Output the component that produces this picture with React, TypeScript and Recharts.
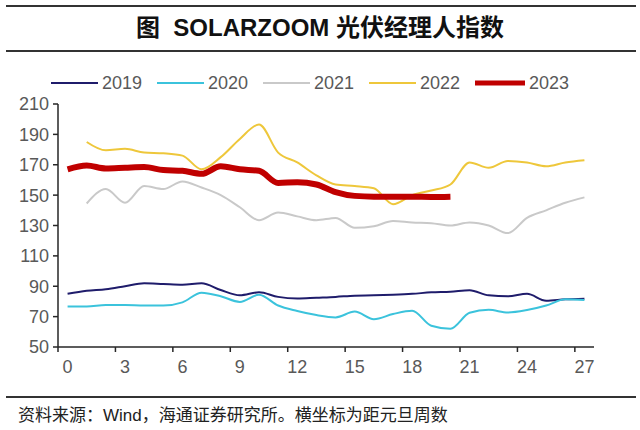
import React from 'react';
import { LineChart, Line, XAxis, YAxis, Legend } from 'recharts';

// weeks since New Year (x axis)
const weeks = [0, 1, 2, 3, 4, 5, 6, 7, 8, 9, 10, 11, 12, 13, 14, 15, 16, 17, 18, 19, 20, 21, 22, 23, 24, 25, 26, 27];

const y2019 = [85, 87, 88, 90, 92, 91.5, 91, 92, 87.5, 84, 86, 83, 82, 82.5, 83, 83.8, 84, 84.4, 85, 86, 86.4, 87.4, 84, 83.4, 85, 80.5, 81.4, 81.8];
const y2020 = [76.7, 76.7, 77.7, 77.7, 77.3, 77.3, 79.4, 85.8, 83.4, 79.7, 84.4, 77.3, 73.7, 71, 69.5, 73.3, 68.3, 71.7, 73.9, 64, 62, 72.5, 74.5, 72.7, 74.3, 77.3, 81.4, 81];
const y2021 = [null, 144.5, 154, 145, 156, 154, 159, 155, 150, 142, 133.5, 138.5, 136, 133.5, 135, 128.5, 129.5, 133, 132, 131.5, 130, 132, 130, 125, 135, 140, 145, 148.5];
const y2022 = [null, 185, 179.5, 180.5, 178, 177.5, 176, 167, 175, 187, 196.5, 178, 171.5, 163, 157, 156, 154.5, 144, 150, 153, 157, 171.5, 168, 172.5, 171.5, 169, 171.5, 173];
const y2023 = [167, 169.5, 167.5, 168, 168.5, 166.5, 166, 164, 169, 167, 166, 158, 158.5, 157, 152, 149.5, 149, 149, 149, 148.8, 149, null, null, null, null, null, null, null];

const yTicks = [50, 70, 90, 110, 130, 150, 170, 190, 210];
const xTicks = [0, 3, 6, 9, 12, 15, 18, 21, 24, 27];

const SERIES = [
  { key: 'y2019', name: '2019', color: '#1F1C6B', width: 2 },
  { key: 'y2020', name: '2020', color: '#3BC3DC', width: 2 },
  { key: 'y2021', name: '2021', color: '#C9C9C9', width: 2 },
  { key: 'y2022', name: '2022', color: '#EEC73B', width: 2 },
  { key: 'y2023', name: '2023', color: '#C00000', width: 6 },
];

const data = weeks.map((w, i) => ({
  week: w,
  y2019: y2019[i],
  y2020: y2020[i],
  y2021: y2021[i],
  y2022: y2022[i],
  y2023: y2023[i],
}));

const FONT = "'Liberation Sans', Arial, 'Noto Sans CJK SC', sans-serif";
const AXIS = '#262626';
const LABEL = '#595959';

// Excel-style category axis: labels at category centre, tick marks on the boundary
const XTick = (props: any) => {
  const { x, y, payload, width } = props;
  const half = (width || 536) / weeks.length / 2;
  return (
    <g>
      <line x1={x - half} x2={x - half} y1={y - 13} y2={y - 8} stroke={AXIS} strokeWidth={1.5} />
      <text x={x} y={y} dy="0.71em" textAnchor="middle" fill={LABEL} fontSize={18} fontFamily={FONT}>
        {payload.value}
      </text>
    </g>
  );
};

const LegendContent = () => (
  <div style={{ display: 'flex', paddingLeft: 51, fontFamily: FONT, fontSize: 18, color: LABEL, lineHeight: '22px' }}>
    {SERIES.map((s) => (
      <div key={s.key} style={{ width: 106, display: 'flex', alignItems: 'center' }}>
        <svg width={s.width > 2 ? 50 : 47} height={10} style={{ marginRight: 4 }}>
          <line x1={0} x2={s.width > 2 ? 50 : 47} y1={5} y2={5} stroke={s.color} strokeWidth={s.width > 2 ? 5 : 2} strokeLinecap="round" />
        </svg>
        <span>{s.name}</span>
      </div>
    ))}
  </div>
);

export default function App() {
  return (
    <div style={{ position: 'relative', width: 640, height: 430, background: '#fff', fontFamily: FONT }}>
      <style>{'body{margin:0}'}</style>
      <div style={{ position: 'absolute', left: 6, right: 4, top: 5, height: 0, borderTop: '2px solid #333' }} />
      <div
        style={{
          position: 'absolute',
          left: 0,
          width: 640,
          top: 14,
          textAlign: 'center',
          fontSize: 24,
          fontWeight: 'bold',
          color: '#111',
          lineHeight: '28px',
        }}
      >
        图&nbsp; SOLARZOOM 光伏经理人指数
      </div>
      <div style={{ position: 'absolute', left: 6, right: 4, top: 50, height: 0, borderTop: '2px solid #333' }} />

      <div style={{ position: 'absolute', left: 0, top: 0 }}>
        <LineChart width={640} height={430} data={data} margin={{ top: 82, right: 46, bottom: 53, left: 8 }}>
          <XAxis
            dataKey="week"
            type="number"
            domain={[-0.5, 27.5]}
            ticks={xTicks}
            interval={0}
            tick={<XTick />}
            tickSize={5}
            tickMargin={8}
            tickLine={false}
            axisLine={{ stroke: AXIS, strokeWidth: 1.5 }}
            height={30}
          />
          <YAxis
            domain={[50, 210]}
            ticks={yTicks}
            interval={0}
            width={50}
            tickSize={5}
            tickMargin={4}
            tick={{ fill: LABEL, fontSize: 18, fontFamily: FONT }}
            tickLine={{ stroke: AXIS, strokeWidth: 1.5 }}
            axisLine={{ stroke: AXIS, strokeWidth: 1.5 }}
          />
          <Legend content={<LegendContent />} verticalAlign="top" align="left" wrapperStyle={{ top: 72, left: 0, width: 640 }} />
          {SERIES.map((s) => (
            <Line
              key={s.key}
              type="monotone"
              dataKey={s.key}
              name={s.name}
              stroke={s.color}
              strokeWidth={s.width}
              dot={false}
              activeDot={false}
              connectNulls={false}
              isAnimationActive={false}
            />
          ))}
        </LineChart>
      </div>

      <div style={{ position: 'absolute', left: 6, right: 4, top: 396, height: 0, borderTop: '2px solid #333' }} />
      <div
        style={{
          position: 'absolute',
          left: 18,
          top: 405,
          fontSize: 17,
          color: '#222',
          lineHeight: '22px',
          fontFamily: "'Liberation Sans', 'Noto Sans CJK SC', sans-serif",
          whiteSpace: 'nowrap',
        }}
      >
        资料来源：Wind，海通证券研究所。横坐标为距元旦周数
      </div>
    </div>
  );
}
